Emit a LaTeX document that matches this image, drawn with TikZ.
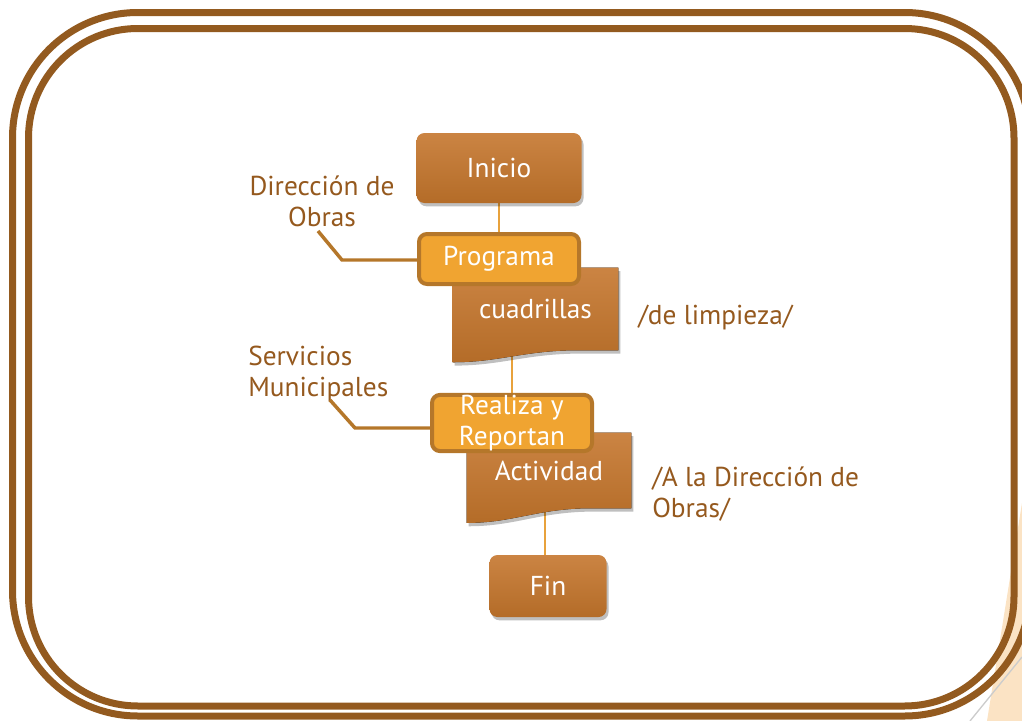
\documentclass[tikz,border=0pt]{standalone}
\usepackage{fontspec}
\setmainfont{PT Sans}
\usetikzlibrary{shadows,backgrounds}
\definecolor{marco}{HTML}{935A1F}
\definecolor{cafeA}{HTML}{CB8443}
\definecolor{cafeB}{HTML}{B46C28}
\definecolor{naranja}{HTML}{F0A431}
\definecolor{bordeN}{HTML}{B5772A}
\definecolor{linea}{HTML}{E8A23C}
\definecolor{texto}{HTML}{95591E}
\definecolor{durazno}{HTML}{FBE3C4}
\tikzset{
  caja/.style={rounded corners=6pt, top color=cafeA, bottom color=cafeB, text=white,
    drop shadow={shadow xshift=1.5pt, shadow yshift=-2.5pt, opacity=0.25, fill=black}},
  proceso/.style={rounded corners=6pt, fill=naranja, draw=bordeN, line width=3pt, text=white,
    minimum width=120pt, minimum height=37.5pt, inner sep=0pt},
  docu/.style={top color=cafeA, bottom color=cafeB,
    drop shadow={shadow xshift=1.5pt, shadow yshift=-2.5pt, opacity=0.25, fill=black}},
  flujo/.style={linea, line width=1.6pt},
  guia/.style={bordeN, line width=2.6pt},
  etiqueta/.style={text=texto, inner sep=0pt},
}
\begin{document}
\begin{tikzpicture}[x=0.75pt, y=-0.75pt, font=\fontsize{20.5}{23.5}\selectfont]
  \useasboundingbox (0,0) rectangle (1022,721);
  % Fondo y marco
  \fill[durazno] (1022,503) -- (987,721) -- (1022,721) -- cycle;
  \draw[gray!40, line width=1pt] (970,721) -- (1022,657);
  \draw[marco, line width=5.25pt, rounded corners=94pt] (12.5,12.5) rectangle (1030,716);
  \draw[marco, line width=5.25pt, rounded corners=82pt] (28.5,28.5) rectangle (1014,706);

  % Documentos
  \node[minimum width=123.75pt, minimum height=61.5pt, inner sep=0pt] (cuadrillas) at (535.5,309) {};
  \fill[docu] (cuadrillas.north west) -- (cuadrillas.north east) -- (cuadrillas.south east)
    -- ++(-30pt,0) .. controls +(-40pt,0) and +(35pt,0) .. ([yshift=-9pt]cuadrillas.south west) -- cycle;
  \node[text=white] at (cuadrillas) {cuadrillas};

  \node[minimum width=123pt, minimum height=56.25pt, inner sep=0pt] (actividad) at (549,470.5) {};
  \fill[docu] (actividad.north west) -- (actividad.north east) -- (actividad.south east)
    -- ++(-30pt,0) .. controls +(-40pt,0) and +(35pt,0) .. ([yshift=-11pt]actividad.south west) -- cycle;
  \node[text=white] at (actividad) {Actividad};

  % Terminales y procesos
  \node[caja, minimum width=123.75pt, minimum height=52.5pt] (inicio) at (499,168) {Inicio};
  \node[proceso] (programa) at (499,259) {Programa};
  \node[proceso, align=center] (realiza) at (512,423) {Realiza y\\Reportan};
  \node[caja, minimum width=87.75pt, minimum height=46.5pt] (fin) at (548,586) {Fin};

  % Textos
  \node[etiqueta, align=center] (direccion) at (322,201) {Dirección de\\Obras};
  \node[etiqueta, align=left, anchor=west] (servicios) at (248,374) {Servicios\\Municipales};
  \node[etiqueta, anchor=west] (limpieza) at (638,318) {/de limpieza/};
  \node[etiqueta, align=left, anchor=west] (aladir) at (652,494) {/A la Dirección de\\Obras/};

  % Conectores
  \coordinate (pA) at (318,231);
  \coordinate (codoA) at (342,260);
  \coordinate (pB) at (330,400);
  \coordinate (codoB) at (355,428);
  \draw[guia] (pA) -- (codoA) -- (programa.west |- codoA);
  \draw[guia] (pB) -- (codoB) -- (realiza.west |- codoB);
  \begin{pgfonlayer}{background}
    \draw[flujo] (inicio) -- (programa);
    \draw[flujo] (realiza.north) -- (realiza.north |- cuadrillas.south);
    \draw[flujo] ([xshift=-2pt]fin.north) -- ([xshift=-2pt]fin.north |- actividad.south);
  \end{pgfonlayer}
\end{tikzpicture}
\end{document}
